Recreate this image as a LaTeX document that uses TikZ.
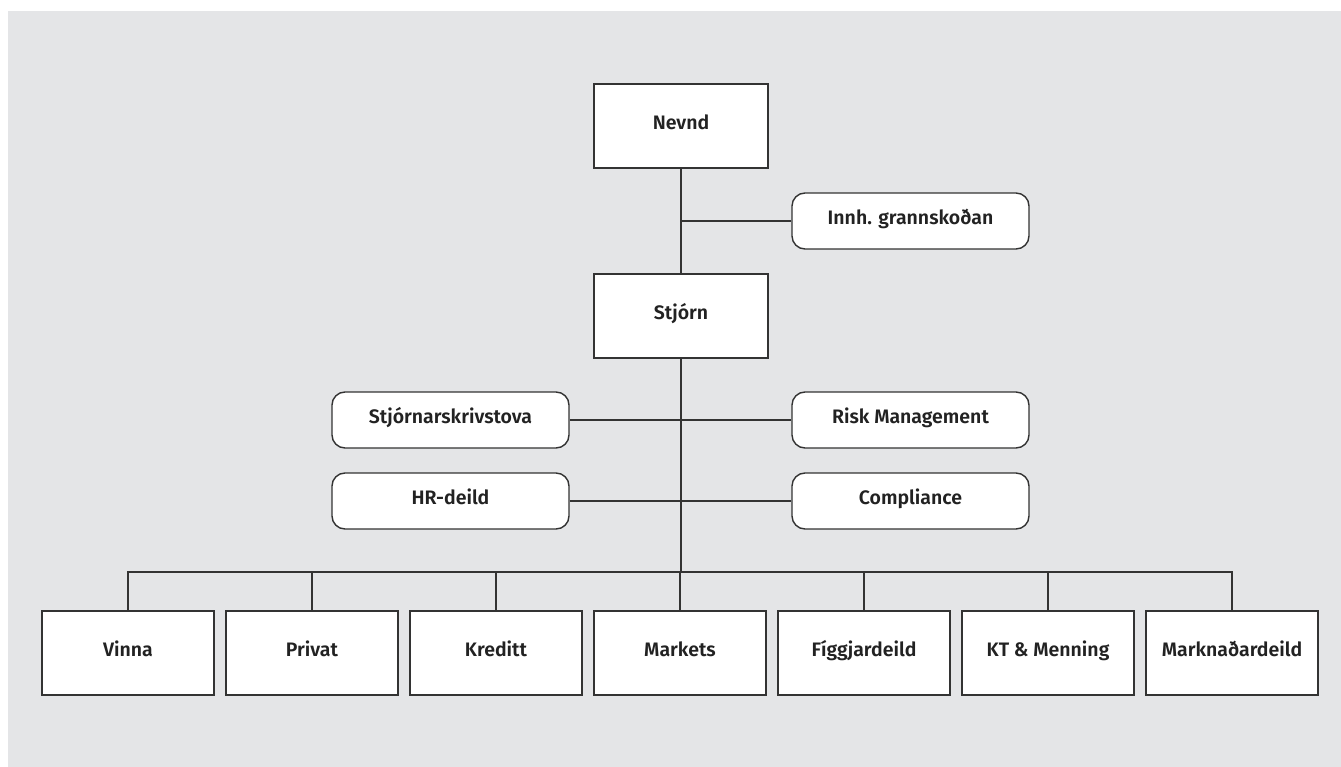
\documentclass[tikz,border=0pt]{standalone}
\usepackage{fontspec}
\setmainfont{Fira Sans}[BoldFont={* SemiBold}]
\definecolor{bggray}{HTML}{E4E5E7}
\definecolor{ink}{HTML}{333333}
\definecolor{txt}{HTML}{222222}
\begin{document}
\begin{tikzpicture}[x=1pt,y=-1pt,
  every node/.style={font=\fontsize{19.5}{23}\selectfont\bfseries, text=txt, text height=0.76em, text depth=0pt},
  sqbox/.style={draw=ink, line width=1.4pt, fill=white, minimum width=174pt, minimum height=84pt, inner sep=0pt},
  botbox/.style={draw=ink, line width=1.4pt, fill=white, minimum width=172pt, minimum height=84pt, inner sep=0pt},
  rbox/.style={draw=ink, line width=1.4pt, fill=white, rounded corners=13pt, minimum width=237pt, minimum height=56pt, inner sep=0pt},
  link/.style={draw=ink, line width=1.4pt}]
\useasboundingbox (0,0) rectangle (1341,767);
\fill[white] (0,0) rectangle (1341,767);
\fill[bggray] (8,11) rectangle (1341,767);
\coordinate (bus) at (681,572);
\coordinate (innhj) at (681,221);
% nodes
\node[sqbox] (nevnd) at (681,126) {Nevnd};
\node[rbox] (innh) at (910.5,221) {Innh. grannskoðan};
\node[sqbox] (stjorn) at (681,316) {Stjórn};
\node[rbox] (skriv) at (450.5,420) {Stjórnarskrivstova};
\node[rbox] (risk) at (910.5,420) {Risk Management};
\node[rbox] (hr) at (450.5,501) {HR-deild};
\node[rbox] (comp) at (910.5,501) {Compliance};
\node[botbox] (b1) at (128,653) {Vinna};
\node[botbox] (b2) at (312,653) {Privat};
\node[botbox] (b3) at (496,653) {Kreditt};
\node[botbox] (b4) at (680,653) {Markets};
\node[botbox] (b5) at (864,653) {Fíggjardeild};
\node[botbox] (b6) at (1048,653) {KT \& Menning};
\node[botbox] (b7) at (1232,653) {Marknaðardeild};
% connectors
\draw[link] (nevnd.south) -- (stjorn.north);
\draw[link] (innhj) -- (innh.west);
\draw[link] (skriv.east) -- (risk.west);
\draw[link] (hr.east) -- (comp.west);
\draw[link] (stjorn.south) -- (bus);
\draw[link] (b1.north) -- (b1.north |- bus) -- (b7.north |- bus) -- (b7.north);
\foreach \b in {b2,b3,b4,b5,b6} {\draw[link] (\b.north) -- (\b.north |- bus);}
\end{tikzpicture}
\end{document}
